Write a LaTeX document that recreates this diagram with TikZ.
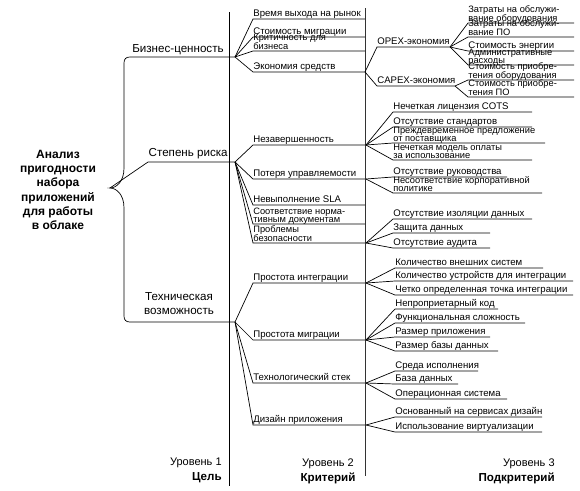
\documentclass[tikz,border=0pt]{standalone}
\usepackage{fontspec}
\setmainfont{Liberation Sans}
\usetikzlibrary{positioning}

\begin{document}
\begin{tikzpicture}[
        x=1pt, y=-1pt,
        line width=0.7pt,
        goal/.style={align=center, inner sep=0pt, font=\fontsize{12}{14.3}\selectfont\bfseries},
        crit/.style={align=center, inner sep=0pt, font=\fontsize{11.6}{14}\selectfont},
        item/.style={anchor=south west, inner xsep=0pt, inner ysep=1.8pt, text depth=0pt, align=left, font=\fontsize{9.6}{6.4}\selectfont},
        tight/.style={item, inner ysep=0.8pt, font=\fontsize{9.3}{6.6}\selectfont},
        level/.style={inner sep=0pt, font=\fontsize{11}{13}\selectfont},
        levelname/.style={level, font=\fontsize{11.6}{13}\selectfont\bfseries}
    ]
    \useasboundingbox (0,0) rectangle (580,490);

    % Level separators
    \draw (229,12) -- (229,486);
    \draw[line width=0.9pt, black!80] (365,8) -- (365,476);

    % Level 1: Goal and brace
    \node[goal] (goal) at (58,190) {Анализ\\пригодности\\набора\\приложений\\для работы\\в облаке};

    \coordinate (tip) at (110,188);
    \coordinate (B) at (235,57);
    \coordinate (R) at (235,162);
    \coordinate (T) at (235,322);

    \node[crit, anchor=base east] (biz) at (224,52) {Бизнес-ценность};
    \node[crit, anchor=base east] (risk) at (228,156) {Степень риска};
    \node[crit] (tech) at (179,304) {Техническая\\возможность};

    \draw (B) -- (130,57) .. controls (126,57) and (124,59) .. (124,63) -- (124,168)
        .. controls (124,182) and (116,188) .. (tip)
        .. controls (116,188) and (124,194) .. (124,208) -- (124,316)
        .. controls (124,320) and (126,322) .. (130,322) -- (T);
    \draw (tip) -- (148,162) -- (R);

    % Level 2: Business value
    \node[item] (b1) at (253,19) {Время выхода на рынок};
    \node[item] (b2) at (253,37) {Стоимость миграции};
    \node[tight] (b3) at (253,51) {Критичность для\\бизнеса};
    \node[item] (b4) at (253,72) {Экономия средств};
    \foreach \n in {b1,b2,b3,b4}
        \draw (B) -- (\n.south west) -- ++(112,0);

    % Level 3: Savings
    \coordinate (E) at (365,72);
    \node[item] (opex) at (377,47) {OPEX-экономия};
    \node[item] (capex) at (377,86) {CAPEX-экономия};
    \draw (E) -- (opex.south west) -- ++(73,0) coordinate (O);
    \draw (E) -- (capex.south west) -- ++(78,0) coordinate (C);

    \node[tight] (o1) at (468,23) {Затраты на обслужи-\\вание оборудования};
    \node[tight] (o2) at (468,37) {Затраты на обслужи-\\вание ПО};
    \node[item] (o3) at (468,51) {Стоимость энергии};
    \node[tight] (o4) at (468,65) {Административные\\расходы};
    \node[tight] (c1) at (468,80) {Стоимость приобре-\\тения оборудования};
    \node[tight] (c2) at (468,97) {Стоимость приобре-\\тения ПО};
    \foreach \n in {o1,o2,o3,o4}
        \draw (O) -- (\n.south west) -- ++(106,0);
    \foreach \n in {c1,c2}
        \draw (C) -- (\n.south west) -- ++(106,0);

    % Level 2: Risk
    \node[item] (r1) at (253,145) {Незавершенность};
    \node[item] (r2) at (253,179) {Потеря управляемости};
    \node[item] (r3) at (253,205) {Невыполнение SLA};
    \node[tight] (r4) at (253,224) {Соответствие норма-\\тивным документам};
    \node[tight] (r5) at (253,243) {Проблемы\\безопасности};
    \foreach \n in {r1,r2,r3,r4,r5}
        \draw (R) -- (\n.south west) -- ++(112,0);

    % Level 3: Risk
    \coordinate (N) at (366,145);
    \coordinate (P) at (366,179);
    \coordinate (S) at (366,243);
    \node[item] (n1) at (393,112) {Нечеткая лицензия COTS};
    \node[item] (n2) at (393,127) {Отсутствие стандартов};
    \node[tight] (n3) at (393,143) {Преждевременное предложение\\от поставщика};
    \node[tight] (n4) at (393,160) {Нечеткая модель оплаты\\за использование};
    \node[item] (p1) at (393,177) {Отсутствие руководства};
    \node[tight] (p2) at (393,193) {Несоответствие корпоративной\\политике};
    \node[item] (s1) at (393,219) {Отсутствие изоляции данных};
    \node[item] (s2) at (393,233) {Защита данных};
    \node[item] (s3) at (393,248) {Отсутствие аудита};
    \foreach \n/\w in {n1/139,n2/139,n3/152,n4/139}
        \draw (N) -- (\n.south west) -- ++(\w,0);
    \foreach \n/\w in {p1/114,p2/149}
        \draw (P) -- (\n.south west) -- ++(\w,0);
    \foreach \n/\w in {s1/139,s2/97,s3/97}
        \draw (S) -- (\n.south west) -- ++(\w,0);

    % Level 2: Technical feasibility
    \node[item] (t1) at (253,283) {Простота интеграции};
    \node[item] (t2) at (253,340) {Простота миграции};
    \node[item] (t3) at (253,383) {Технологический стек};
    \node[item] (t4) at (253,425) {Дизайн приложения};
    \foreach \n in {t1,t2,t3,t4}
        \draw (T) -- (\n.south west) -- ++(112,0);

    % Level 3: Technical feasibility
    \coordinate (I) at (366,283);
    \coordinate (M) at (366,340);
    \coordinate (K) at (366,383);
    \coordinate (D) at (366,425);
    \node[item] (i1) at (395,268) {Количество внешних систем};
    \node[item] (i2) at (395,281) {Количество устройств для интеграции};
    \node[item] (i3) at (395,295) {Четко определенная точка интеграции};
    \node[item] (m1) at (395,309) {Непроприетарный код};
    \node[item] (m2) at (395,323) {Функциональная сложность};
    \node[item] (m3) at (395,337) {Размер приложения};
    \node[item] (m4) at (395,351) {Размер базы данных};
    \node[item] (k1) at (395,371) {Среда исполнения};
    \node[item] (k2) at (395,384) {База данных};
    \node[item] (k3) at (395,399) {Операционная система};
    \node[item] (d1) at (395,417) {Основанный на сервисах дизайн};
    \node[item] (d2) at (395,432) {Использование виртуализации};
    \foreach \n/\w in {i1/148,i2/178,i3/178}
        \draw (I) -- (\n.south west) -- ++(\w,0);
    \foreach \n/\w in {m1/103,m2/130,m3/95,m4/103}
        \draw (M) -- (\n.south west) -- ++(\w,0);
    \foreach \n/\w in {k1/83,k2/63,k3/112}
        \draw (K) -- (\n.south west) -- ++(\w,0);
    \foreach \n/\w in {d1/147,d2/147}
        \draw (D) -- (\n.south west) -- ++(\w,0);

    % Level captions
    \node[level, anchor=north east] (lvl1) at (222,458) {Уровень 1};
    \node[levelname, below left=4pt and 0pt of lvl1.south east] (name1) {Цель};
    \node[level, anchor=north] (lvl2) at (328,458) {Уровень 2};
    \node[levelname, below=4pt of lvl2] (name2) {Критерий};
    \node[level, anchor=north east] (lvl3) at (555,458) {Уровень 3};
    \node[levelname, below left=4pt and 0pt of lvl3.south east] (name3) {Подкритерий};

\end{tikzpicture}
\end{document}
